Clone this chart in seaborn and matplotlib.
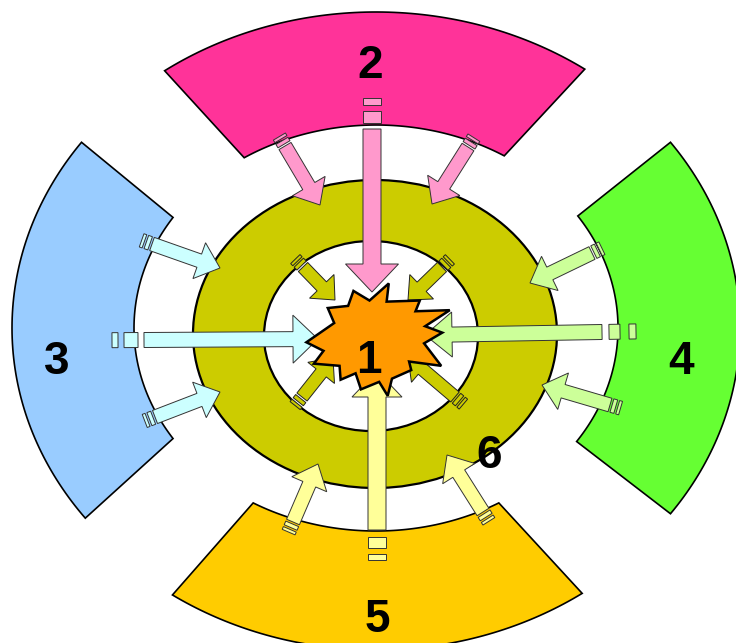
import numpy as np
import matplotlib
matplotlib.use("Agg")
import matplotlib.pyplot as plt
from matplotlib.patches import Polygon, Ellipse
import seaborn as sns

# outer sectors: label, colour, outer span, inner span (parametric degrees, y up)
sector_labels = ["2", "3", "4", "5"]
sector_colors = ["#FF3399", "#99CCFF", "#66FF33", "#FFCC00"]
sector_outer = [(55, 125.5), (144, 217), (-36, 36), (236, 304.5)]
sector_inner = [(58, 123), (147, 213), (-34, 33.5), (239.5, 300.5)]
label_pos = [(370, 66), (57, 362), (681, 362), (377, 620)]

# straight arrows crossing the rings: tail, tip, shaft w, head w, head len, colour
straight_tail = [(372, 129), (144, 340), (602, 332), (377, 530)]
straight_tip = [(372, 292), (318, 339), (425, 335), (377, 371)]
straight_size = [(18, 53, 28), (15, 48, 25), (15, 45, 27), (18, 50, 26)]
straight_colors = ["#FF99CC", "#CCFFFF", "#CCFF99", "#FFFF99"]

# short diagonal arrows in the white ring
diag_tail = [(285, 146), (468, 147), (152, 244), (155, 417),
             (592, 253), (610, 405), (293, 522), (483, 512)]
diag_tip = [(320, 205), (432, 204), (220, 268), (220, 392),
            (530, 283), (542, 385), (318, 464), (447, 455)]
diag_colors = ["#FF99CC", "#FF99CC", "#CCFFFF", "#CCFFFF",
               "#CCFF99", "#CCFF99", "#FFFF99", "#FFFF99"]

# olive arrows inside the olive ring
olive_tail = [(303, 267), (442, 267), (302, 397), (455, 397)]
olive_tip = [(335, 300), (408, 300), (333, 358), (408, 357)]

# explosion outline (spike tip, inner notch, ...)
burst_x = [388, 386, 417, 413, 445, 422, 438, 421, 437, 407, 409, 391,
           387, 379, 362, 357, 343, 342, 318, 327, 311, 337, 331, 350, 355, 370]
burst_y = [287, 304, 303, 313, 312, 327, 333, 343, 364, 360, 368, 376,
           392, 379, 386, 371, 377, 364, 362, 350, 342, 324, 310, 308, 294, 303]

CX, CY = 376, 328
A_OUT = 364
B_OUT = [316, 316, 316, 322]
A_IN, B_IN = 242, 203


def ell_pts(a, b, t0, t1, n=80):
    t = np.radians(np.linspace(t0, t1, n))
    return np.column_stack([CX + a * np.cos(t), CY - b * np.sin(t)])


def arrow_poly(tail, tip, w, hw, hl):
    p0, p1 = np.array(tail, float), np.array(tip, float)
    u = (p1 - p0) / np.linalg.norm(p1 - p0)
    nrm = np.array([-u[1], u[0]])
    base = p1 - hl * u
    return np.array([p0 + nrm * w / 2, base + nrm * w / 2, base + nrm * hw / 2, p1,
                     base - nrm * hw / 2, base - nrm * w / 2, p0 - nrm * w / 2])


def tail_dashes(tail, tip, w, pieces):
    p0, p1 = np.array(tail, float), np.array(tip, float)
    u = (p1 - p0) / np.linalg.norm(p1 - p0)
    nrm = np.array([-u[1], u[0]])
    out, pos = [], 0.0
    for gap, length in pieces:
        a = p0 - u * (pos + gap)
        b = p0 - u * (pos + gap + length)
        out.append(np.array([a + nrm * w / 2, b + nrm * w / 2,
                             b - nrm * w / 2, a - nrm * w / 2]))
        pos += gap + length
    return out


def draw_arrow(ax, tail, tip, w, hw, hl, color, pieces, ec="#333333", z=4):
    ax.add_patch(Polygon(arrow_poly(tail, tip, w, hw, hl), closed=True,
                         facecolor=color, edgecolor=ec, lw=0.7, zorder=z))
    for d in tail_dashes(tail, tip, w, pieces):
        ax.add_patch(Polygon(d, closed=True, facecolor=color,
                             edgecolor=ec, lw=0.7, zorder=z))


sns.set_style("white")
fig = plt.figure(figsize=(7.36, 6.43), dpi=100)
ax = fig.add_axes([0, 0, 1, 1])
ax.set_xlim(0, 736)
ax.set_ylim(643, 0)
ax.axis("off")

for (o0, o1), (i0, i1), col, bo in zip(sector_outer, sector_inner, sector_colors, B_OUT):
    pts = np.vstack([ell_pts(A_OUT, bo, o0, o1), ell_pts(A_IN, B_IN, i1, i0)])
    ax.add_patch(Polygon(pts, closed=True, facecolor=col, edgecolor="black",
                         lw=1.2, zorder=1))

ax.add_patch(Ellipse((375, 334), 364, 308, facecolor="#CCCC00",
                     edgecolor="black", lw=1.6, zorder=2))
ax.add_patch(Ellipse((371, 336), 214, 190, facecolor="white",
                     edgecolor="black", lw=1.6, zorder=3))

straight_pieces = [[(6, 12), (6, 7)], [(6, 14), (6, 6)],
                   [(7, 11), (9, 7)], [(7, 11), (6, 6)]]
for tl, tp, (w, hw, hl), col, pcs in zip(straight_tail, straight_tip, straight_size,
                                         straight_colors, straight_pieces):
    draw_arrow(ax, tl, tp, w, hw, hl, col, pcs)

for tl, tp, col in zip(diag_tail, diag_tip, diag_colors):
    draw_arrow(ax, tl, tp, 14, 38, 22, col, [(2, 4), (2, 3)])

for tl, tp in zip(olive_tail, olive_tip):
    draw_arrow(ax, tl, tp, 13, 34, 19, "#CCCC00", [(2, 4), (2, 3)], ec="#222222")

# slightly enlarge the burst about its centre
bx = np.array(burst_x, float)
by = np.array(burst_y, float)
bc = np.array([377.0, 338.0])
burst = bc + 1.07 * (np.column_stack([bx, by]) - bc)
ax.add_patch(Polygon(burst, closed=True,
                     facecolor="#FF9900", edgecolor="black", lw=1.8, zorder=6))

font = dict(family=["Liberation Sans", "DejaVu Sans"], fontsize=33,
            fontweight="bold", color="black", ha="center", va="center", zorder=8)
for lab, (x, y) in zip(sector_labels, label_pos):
    ax.text(x, y, lab, **font)
ax.text(369, 361, "1", **font)
ax.text(489, 456, "6", **font)

fig.savefig("out.png", dpi=100)
